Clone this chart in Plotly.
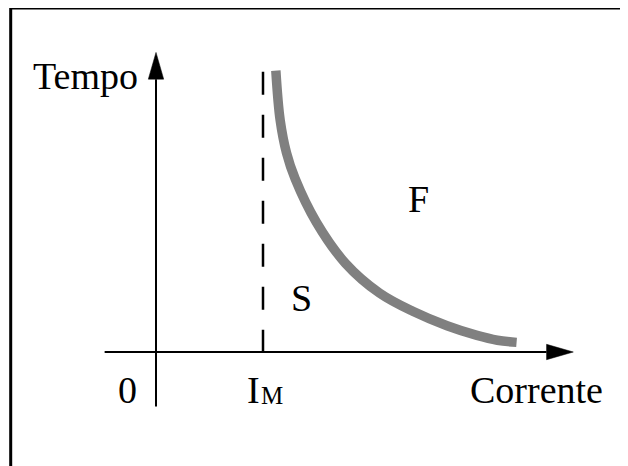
import plotly.graph_objects as go

# ---- data (schematic units: I_M = 1) ----
I_M = 1.0
curve_current = [1.12, 1.16, 1.22, 1.30, 1.50, 1.77, 2.09, 2.40, 2.72, 3.00, 3.19, 3.37]
curve_time = [2.63, 2.17, 1.86, 1.62, 1.21, 0.83, 0.55, 0.38, 0.245, 0.155, 0.11, 0.09]
dash_top = 2.62
x_axis_end = 3.90
y_axis_end = 2.80
x_axis_start = -0.48
y_axis_start = -0.51
labels = {"time": "Tempo", "current": "Corrente", "zero": "0", "F": "F", "S": "S",
          "im_main": "I", "im_sub": "M"}

W, H = 628, 466
PAGE_OFF = 8         # browser body margin
U = 107.0            # pixels per unit
OX, OY = 156, 352    # origin, in screen pixels
x_range = [(PAGE_OFF - OX) / U, (W + PAGE_OFF - OX) / U]
y_range = [(OY - H - PAGE_OFF) / U, (OY - PAGE_OFF) / U]

FONT = "Liberation Serif"
FS = 38

fig = go.Figure()

# dashed vertical line at I_M
fig.add_trace(go.Scatter(x=[I_M, I_M], y=[dash_top, 0], mode="lines",
                         line=dict(color="black", width=2.5, dash="23px,20px"),
                         hoverinfo="skip", showlegend=False))
# curve
fig.add_trace(go.Scatter(x=curve_current, y=curve_time, mode="lines",
                         line=dict(color="#808080", width=9.5, shape="spline", smoothing=1.0),
                         hoverinfo="skip", showlegend=False))

shapes = []
ah = 0.25   # arrow head length
aw = 0.072  # arrow half width
shapes.append(dict(type="line", x0=x_axis_start, y0=0, x1=x_axis_end - ah, y1=0,
                   line=dict(color="black", width=2)))
shapes.append(dict(type="line", x0=0, y0=y_axis_start, x1=0, y1=y_axis_end - ah,
                   line=dict(color="black", width=2)))
shapes.append(dict(type="path",
                   path=f"M {x_axis_end} 0 L {x_axis_end-ah} {aw} L {x_axis_end-ah} {-aw} Z",
                   fillcolor="black", line=dict(color="black", width=0.5)))
shapes.append(dict(type="path",
                   path=f"M 0 {y_axis_end} L {aw} {y_axis_end-ah} L {-aw} {y_axis_end-ah} Z",
                   fillcolor="black", line=dict(color="black", width=0.5)))
# frame (top and left edges)
bx = (10.7 - PAGE_OFF) / W
by = 1.0
shapes.append(dict(type="path", xref="paper", yref="paper",
                   path=f"M {bx} 0 L {bx} {by} L 1 {by}",
                   line=dict(color="black", width=3)))
fig.update_layout(shapes=shapes)

def ann(text, sx, sy, size=FS):
    fig.add_annotation(x=(sx - OX) / U, y=(OY - sy) / U, text=text, showarrow=False,
                       xanchor="center", yanchor="middle",
                       font=dict(family=FONT, size=size, color="black"))

ann(labels["time"], 85, 76)
ann(labels["zero"], 127, 390)
ann(labels["im_main"], 253, 390)
ann(labels["im_sub"], 272, 395, size=25)
ann(labels["current"], 536, 390)
ann(labels["F"], 418, 199)
ann(labels["S"], 301, 298)

fig.update_layout(
    width=W, height=H, margin=dict(l=0, r=0, t=0, b=0),
    paper_bgcolor="white", plot_bgcolor="white",
    xaxis=dict(range=x_range, visible=False, fixedrange=True),
    yaxis=dict(range=y_range, visible=False, fixedrange=True),
    showlegend=False,
)
fig.write_html("out.html")
